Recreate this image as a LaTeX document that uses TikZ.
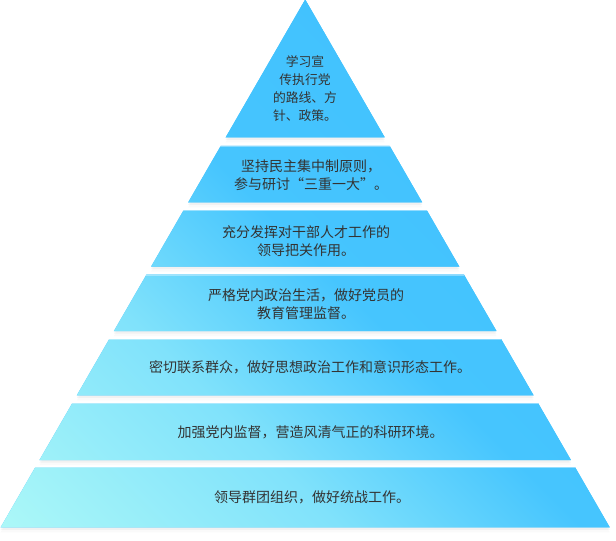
\documentclass[tikz,border=0pt]{standalone}
\usepackage{fontspec}
\newfontfamily\cjk{Noto Sans CJK SC}
\definecolor{c0}{HTML}{ACF8F8}
\definecolor{c1}{HTML}{80E2FB}
\definecolor{c2}{HTML}{46C5FE}
\definecolor{c3}{HTML}{42C2FE}
\definecolor{txt}{HTML}{333333}
\pgfdeclarehorizontalshading{pyrshade}{100bp}{color(0bp)=(c0); color(25.8bp)=(c0); color(45.5bp)=(c1); color(59.6bp)=(c2); color(75bp)=(c3); color(100bp)=(c3)}
\newcommand\pyrband[2]{({305.2-0.577*(#1+0.5)},#1) -- ({305.2+0.577*(#1+0.5)},#1) -- ({305.2+0.577*(#2+0.5)},#2) -- ({305.2-0.577*(#2+0.5)},#2) -- cycle}
\begin{document}
\begin{tikzpicture}[x=0.75pt,y=-0.75pt,
  lbl/.style={text=txt, align=center, inner sep=0pt, font=\cjk\fontsize{10.5pt}{13.5pt}\selectfont},
  toplbl/.style={lbl, font=\cjk\fontsize{9.6pt}{13.4pt}\selectfont},
  shadowA/.style={fill=black, opacity=0.035},
  shadowB/.style={fill=black, opacity=0.02}]
\useasboundingbox (0,0) rectangle (616,541);
\fill[white] (0,0) rectangle (616,541);
% soft drop shadows
\foreach \t/\b in {-0.5/137.3, 146/202.3, 210.3/266.7, 274.7/331, 339/395.3, 403.3/460, 467.3/527.3}{
  \path[shadowB, shift={(0,5)}] \pyrband{\t}{\b};
  \path[shadowA, shift={(0,2.5)}] \pyrband{\t}{\b};
}
% gradient-filled bands
\begin{scope}
\clip \pyrband{-0.5}{137.3} \pyrband{146}{202.3} \pyrband{210.3}{266.7} \pyrband{274.7}{331} \pyrband{339}{395.3} \pyrband{403.3}{460} \pyrband{467.3}{527.3};
\fill[c3] (0,0) rectangle (616,541);
\begin{scope}[transform canvas={rotate around={45:(0,527.3)}}]
\shade[shading=pyrshade] (-10,-180) rectangle (600,1230);
\end{scope}
\end{scope}
% light top edges
\foreach \t in {146, 210.3, 274.7, 339, 403.3, 467.3}{
  \draw[white, opacity=0.35, line width=0.75pt] ({305.2-0.577*(\t+1)},\t+0.5) -- ({305.2+0.577*(\t+1)},\t+0.5);
}
% labels
\node[toplbl] (t1) at (305,88.5) {学习宣\\传执行党\\的路线、方\\针、政策。};
\node[lbl] (t2) at (311,175.5) {坚持民主集中制原则，\\参与研讨“三重一大”。};
\node[lbl] (t3) at (306,241) {充分发挥对干部人才工作的\\领导把关作用。};
\node[lbl] (t4) at (306,304) {严格党内政治生活，做好党员的\\教育管理监督。};
\node[lbl] (t5) at (310,367.3) {密切联系群众，做好思想政治工作和意识形态工作。};
\node[lbl] (t6) at (310.5,432) {加强党内监督，营造风清气正的科研环境。};
\node[lbl] (t7) at (312,497) {领导群团组织，做好统战工作。};
\end{tikzpicture}
\end{document}
